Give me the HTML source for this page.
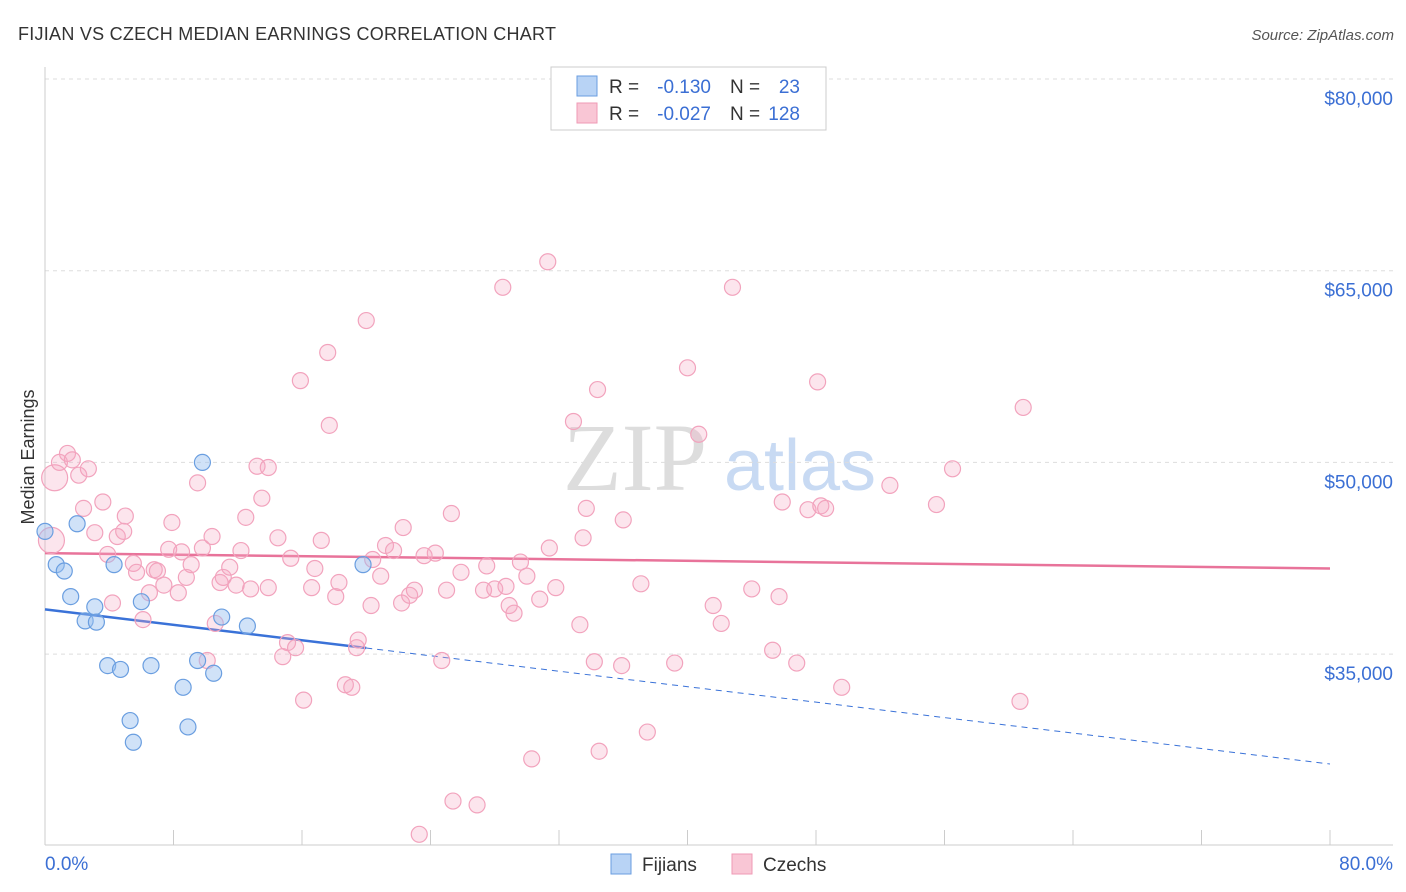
<!DOCTYPE html>
<html><head><meta charset="utf-8"><style>
body{margin:0;background:#fff;font-family:"Liberation Sans",sans-serif;}
svg{display:block}
</style></head><body>
<svg id="chart" width="1406" height="892">
<text x="18" y="40" font-size="18" fill="#333" textLength="538">FIJIAN VS CZECH MEDIAN EARNINGS CORRELATION CHART</text>
<text x="1394" y="40" font-size="15" fill="#555" font-style="italic" text-anchor="end">Source: ZipAtlas.com</text>
<text x="34" y="457" font-size="18" fill="#333" transform="rotate(-90 34 457)" text-anchor="middle">Median Earnings</text>
<g><text x="635" y="490" font-size="96" font-family="Liberation Serif" fill="#ddd" text-anchor="middle">ZIP</text><text x="800" y="490" font-size="72" fill="#c8daf3" text-anchor="middle">atlas</text></g>
<g id="grid"></g><g id="axes"></g><g id="trends"></g><g id="points"></g>
<g>
<rect x="551" y="67" width="275" height="63" fill="#fff" stroke="#ccc"/>
<rect x="577" y="76" width="20" height="20" fill="#b8d3f5" stroke="#6a9ee0"/>
<rect x="577" y="103" width="20" height="20" fill="#f9c6d5" stroke="#ef9ab5"/>
<text x="609" y="93" font-size="19" fill="#333">R =</text>
<text x="711" y="93" font-size="19" fill="#3b6fd4" text-anchor="end">-0.130</text>
<text x="730" y="93" font-size="19" fill="#333">N =</text>
<text x="800" y="93" font-size="19" fill="#3b6fd4" text-anchor="end">23</text>
<text x="609" y="120" font-size="19" fill="#333">R =</text>
<text x="711" y="120" font-size="19" fill="#3b6fd4" text-anchor="end">-0.027</text>
<text x="730" y="120" font-size="19" fill="#333">N =</text>
<text x="800" y="120" font-size="19" fill="#3b6fd4" text-anchor="end">128</text>
</g>
<g>
<rect x="611" y="854" width="20" height="20" fill="#b8d3f5" stroke="#6a9ee0"/>
<text x="642" y="871" font-size="19" fill="#333">Fijians</text>
<rect x="732" y="854" width="20" height="20" fill="#f9c6d5" stroke="#ef9ab5"/>
<text x="763" y="871" font-size="19" fill="#333">Czechs</text>
</g>
</svg>
<script>
const yTicks=[35000,50000,65000,80000];
const yTickLabels=["$35,000","$50,000","$65,000","$80,000"];
const xTicks=[0,8,16,24,32,40,48,56,64,72,80];
const fijianX=[0.0,0.7,1.2,2.0,1.6,2.5,3.1,3.2,3.9,4.7,4.3,6.0,6.6,5.3,5.5,8.6,8.9,9.5,10.5,11.0,12.6,9.8,19.8];
const fijianY=[44.6,42.0,41.5,45.2,39.5,37.6,38.7,37.5,34.1,33.8,42.0,39.1,34.1,29.8,28.1,32.4,29.3,34.5,33.5,37.9,37.2,50.0,42.0];
const czechX=[0.6,0.4,0.9,1.4,1.7,2.1,2.7,2.4,3.1,3.6,3.9,4.2,4.5,4.9,5.0,5.5,5.7,6.1,6.5,6.8,7.0,7.4,7.7,7.9,8.3,8.5,8.8,9.1,9.5,9.8,10.1,10.4,10.6,10.9,11.1,11.5,11.9,12.2,12.5,12.8,13.2,13.5,13.9,13.9,14.5,14.8,15.1,15.3,15.6,15.9,16.1,16.6,16.8,17.2,17.7,17.6,18.1,18.3,18.7,19.1,19.4,19.5,20.0,20.4,20.3,20.9,21.2,21.7,22.2,22.3,22.7,23.0,23.3,23.6,24.3,24.7,25.0,25.3,25.4,25.9,26.9,27.3,27.5,28.0,28.5,28.7,28.9,29.2,29.6,30.0,30.3,30.8,31.3,31.4,31.8,32.9,33.3,33.5,33.7,34.2,34.4,34.5,35.9,36.0,37.1,37.5,39.2,40.0,40.7,41.6,42.1,42.8,44.0,45.3,45.7,45.9,46.8,47.5,48.1,48.3,48.6,49.6,52.6,55.5,56.5,60.7,60.9];
const czechY=[48.8,43.9,50.0,50.7,50.2,49.0,49.5,46.4,44.5,46.9,42.8,39.0,44.2,44.6,45.8,42.1,41.4,37.7,39.8,41.6,41.5,40.4,43.2,45.3,39.8,43.0,41.0,42.0,48.4,43.3,34.5,44.2,37.4,40.6,41.0,41.8,40.4,43.1,45.7,40.1,49.7,47.2,49.6,40.2,44.1,34.8,35.9,42.5,35.5,56.4,31.4,40.2,41.7,43.9,52.9,58.6,39.5,40.6,32.6,32.4,35.5,36.1,61.1,42.4,38.8,41.1,43.5,43.1,39.0,44.9,39.6,40.0,20.9,42.7,42.9,34.5,40.0,46.0,23.5,41.4,23.2,40.0,41.9,40.1,63.7,40.3,38.8,38.2,42.2,41.1,26.8,39.3,65.7,43.3,40.2,53.2,37.3,44.1,46.4,34.4,55.7,27.4,34.1,45.5,40.5,28.9,34.3,57.4,52.2,38.8,37.4,63.7,40.1,35.3,39.5,46.9,34.3,46.3,56.3,46.6,46.4,32.4,48.2,46.7,49.5,31.3,54.3];
const fijianTrend=[38.5,26.4];
const czechTrend=[42.9,41.7];
const fijianSolidEnd=20;

const NS="http://www.w3.org/2000/svg";
const X=v=>45+v/80*1285;
const Y=k=>79+(80-k)*12.78;
function mk(p,tag,at){const e=document.createElementNS(NS,tag);for(const k in at)e.setAttribute(k,at[k]);p.appendChild(e);return e;}
const grid=document.getElementById('grid'),axes=document.getElementById('axes'),tr=document.getElementById('trends'),pts=document.getElementById('points');
yTicks.forEach((t,i)=>{
 const y=Y(t/1000);
 const l=mk(grid,'line',{x1:45,x2:1393,y1:y,y2:y,stroke:'#ddd','stroke-dasharray':'4 4'});
 
 
 const tx=mk(axes,'text',{x:1393,y:y+26,'font-size':19,fill:'#3b6fd4','text-anchor':'end'});
 tx.textContent=yTickLabels[i];
 
 
});
const yl=mk(axes,'line',{x1:45,x2:45,y1:67,y2:845,stroke:'#ccc'});


const xl=mk(axes,'line',{x1:45,x2:1393,y1:845,y2:845,stroke:'#ccc'});


xTicks.forEach(t=>{
 const tk=mk(axes,'line',{x1:X(t),x2:X(t),y1:830,y2:845,stroke:'#ccc'});
 
 
});
const xl0=mk(axes,'text',{x:45,y:870,'font-size':19,fill:'#3b6fd4'});xl0.textContent=xTicks[0].toFixed(1)+'%';


const xl1=mk(axes,'text',{x:1393,y:870,'font-size':19,fill:'#3b6fd4','text-anchor':'end'});xl1.textContent=xTicks[xTicks.length-1].toFixed(1)+'%';



czechX.forEach((x,i)=>{
 const r=(i<2)?13:8;
 const c=mk(pts,'circle',{cx:X(x),cy:Y(czechY[i]),r:r,fill:'rgba(246,168,194,0.3)',stroke:'#f2a3bd','stroke-width':1.2});
 
 
});
fijianX.forEach((x,i)=>{
 const c=mk(pts,'circle',{cx:X(x),cy:Y(fijianY[i]),r:8,fill:'rgba(150,190,240,0.45)',stroke:'#6a9ee0','stroke-width':1.2});
 
 
});
const fy=x=>fijianTrend[0]+(fijianTrend[1]-fijianTrend[0])*x/80;
const t1=mk(tr,'line',{x1:X(0),y1:Y(fy(0)),x2:X(fijianSolidEnd),y2:Y(fy(fijianSolidEnd)),stroke:'#3a72d8','stroke-width':2.5});


const t2=mk(tr,'line',{x1:X(fijianSolidEnd),y1:Y(fy(fijianSolidEnd)),x2:X(80),y2:Y(fy(80)),stroke:'#3a72d8','stroke-width':1,'stroke-dasharray':'6 5'});


const t3=mk(tr,'line',{x1:X(0),y1:Y(czechTrend[0]),x2:X(80),y2:Y(czechTrend[1]),stroke:'#e8739a','stroke-width':2.5});


</script>
</body></html>
